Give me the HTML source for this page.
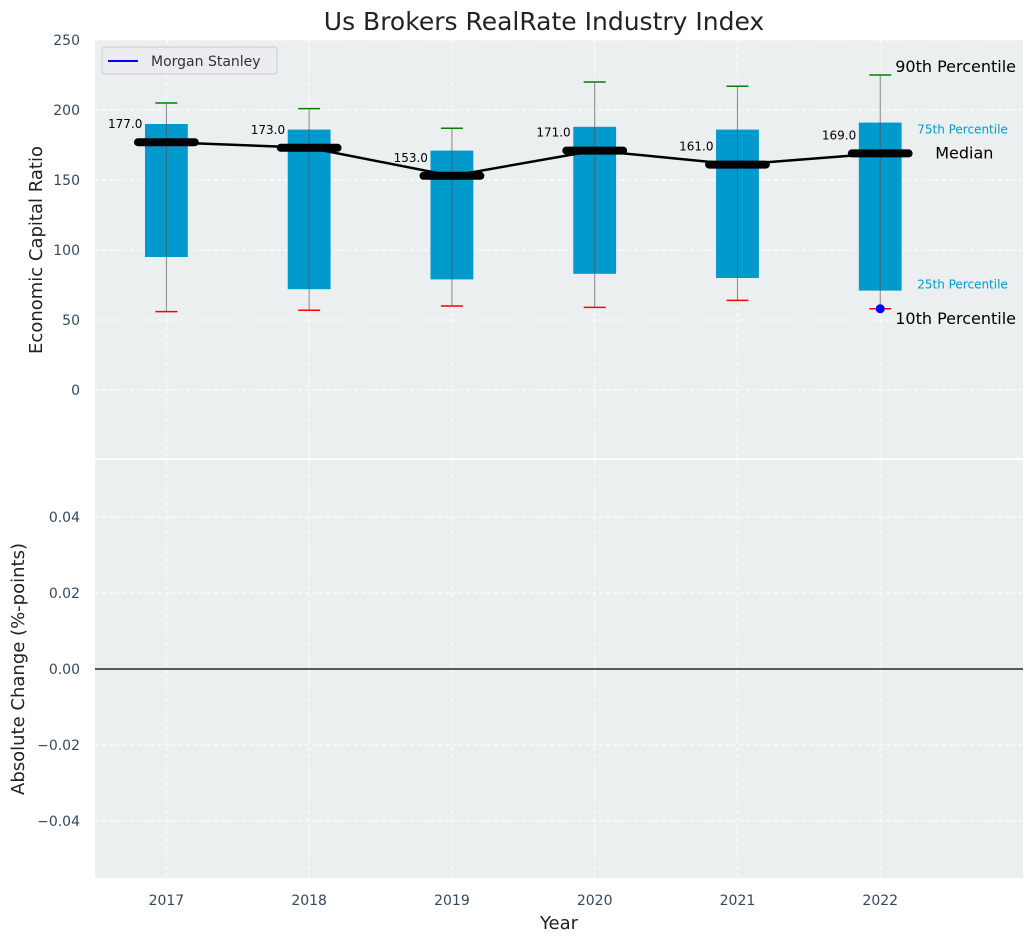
<!DOCTYPE html>
<html><head><meta charset="utf-8"><style>
body{margin:0;background:#fff;}
svg{display:block;font-family:"DejaVu Sans","Liberation Sans",sans-serif;}
</style></head><body>
<svg id="c" width="1034" height="942" viewBox="0 0 1034 942"></svg>
<script>
const years=[2017,2018,2019,2020,2021,2022];
const q1=[95,72,79,83,80,71];
const q3=[190,186,171,188,186,191];
const p10=[56,57,60,59,64,58];
const p90=[205,201,187,220,217,225];
const medians=[177,173,153,171,161,169];
const msYear=2022, msValue=58;
const topTicks=[0,50,100,150,200,250];
const botTicks=[-0.04,-0.02,0,0.02,0.04];
const botLabels=["\u22120.04","\u22120.02","0.00","0.02","0.04"];

const NS="http://www.w3.org/2000/svg";
const svg=document.getElementById('c');
function el(t,a,p){const e=document.createElementNS(NS,t);for(const k in a)e.setAttribute(k,a[k]);(p||svg).appendChild(e);return e;}
const L=95,R=1023;
const x=v=>L+(v-2016.5)/(6.5)*(R-L);
const yT=v=>40+(250-v)/300*420;
const yB=v=>460+(0.055-v)/0.11*418;

let e=el('rect',{x:L,y:40,width:R-L,height:420,fill:'#ebeff0'});

e=el('rect',{x:L,y:460,width:R-L,height:418,fill:'#ebeff0'});

el('line',{x1:L,x2:R,y1:459,y2:459,stroke:'#fff','stroke-width':2});

years.forEach(yr=>{
  el('line',{x1:x(yr),x2:x(yr),y1:40,y2:878,stroke:'#fff','stroke-dasharray':'4,3','stroke-width':1});
});
topTicks.forEach(t=>{
  el('line',{x1:L,x2:R,y1:yT(t),y2:yT(t),stroke:'#fff','stroke-dasharray':'4,3'});
  const tx=el('text',{x:80,y:yT(t)+5,'text-anchor':'end','font-size':14,fill:'#34495e'});tx.textContent=t;
  
});
botTicks.forEach((t,i)=>{
  el('line',{x1:L,x2:R,y1:yB(t),y2:yB(t),stroke:'#fff','stroke-dasharray':'4,3'});
  const tx=el('text',{x:80,y:yB(t)+5,'text-anchor':'end','font-size':14,fill:'#34495e'});tx.textContent=botLabels[i];
  
});
el('line',{x1:L,x2:R,y1:yB(0),y2:yB(0),stroke:'#000','stroke-width':1.2});

const bw=0.3*(R-L)/6.5, mw=0.44*(R-L)/6.5, cw=22;
years.forEach((yr,i)=>{
  const cx=x(yr);
  let b=el('rect',{x:cx-bw/2,y:yT(q3[i]),width:bw,height:yT(q1[i])-yT(q3[i]),fill:'#009acd'});
  
  el('line',{x1:cx,x2:cx,y1:yT(p90[i]),y2:yT(p10[i]),stroke:'#555','stroke-width':1,opacity:0.7});
  el('line',{x1:cx-cw/2,x2:cx+cw/2,y1:yT(p90[i]),y2:yT(p90[i]),stroke:'green','stroke-width':1.5});
  el('line',{x1:cx-cw/2,x2:cx+cw/2,y1:yT(p10[i]),y2:yT(p10[i]),stroke:'red','stroke-width':1.5});
});
let pts=years.map((yr,i)=>x(yr)+','+yT(medians[i])).join(' ');
e=el('polyline',{points:pts,fill:'none',stroke:'#000','stroke-width':2.5});

years.forEach((yr,i)=>{
  const cx=x(yr);
  let m=el('line',{x1:cx-mw/2+3,x2:cx+mw/2-3,y1:yT(medians[i]),y2:yT(medians[i]),stroke:'#000','stroke-width':8,'stroke-linecap':'round'});
  
  let t=el('text',{x:cx-24,y:yT(medians[i])-14,'text-anchor':'end','font-size':12,fill:'#000'});t.textContent=medians[i].toFixed(1);
  
});
e=el('circle',{cx:x(msYear),cy:yT(msValue),r:4.5,fill:'blue'});


const li=years.length-1, ax=x(years[li]);
function ann(txt,xx,yy,sz,col,nm){const t=el('text',{x:xx,y:yy,'font-size':sz,fill:col});t.textContent=txt;}
ann('90th Percentile',ax+15,yT(p90[li])-3,16,'#000','p90-annotation');
ann('75th Percentile',ax+37,yT(q3[li])+11,12,'#009acd','p75-annotation');
ann('Median',ax+55,yT(medians[li])+5,16,'#000','median-annotation');
ann('25th Percentile',ax+37,yT(q1[li])-2,12,'#009acd','p25-annotation');
ann('10th Percentile',ax+15,yT(p10[li])+15,16,'#000','p10-annotation');

years.forEach(yr=>{const t=el('text',{x:x(yr),y:905,'text-anchor':'middle','font-size':14,fill:'#34495e'});t.textContent=yr;});

const lg=el('g',{});
el('rect',{x:102,y:47,width:175,height:27,rx:3,fill:'#eaecf0',stroke:'#ccc'},lg);
el('line',{x1:108,x2:138,y1:61,y2:61,stroke:'blue','stroke-width':2},lg);
let lt=el('text',{x:151,y:66,'font-size':14,fill:'#333'},lg);lt.textContent='Morgan Stanley';

let t=el('text',{x:544,y:30,'text-anchor':'middle','font-size':25,fill:'#222'});t.textContent='Us Brokers RealRate Industry Index';

t=el('text',{x:559,y:929,'text-anchor':'middle','font-size':18,fill:'#222'});t.textContent='Year';

t=el('text',{x:0,y:0,'text-anchor':'middle','font-size':18,fill:'#222',transform:'translate(42,250) rotate(-90)'});t.textContent='Economic Capital Ratio';

t=el('text',{x:0,y:0,'text-anchor':'middle','font-size':18,fill:'#222',transform:'translate(24,669) rotate(-90)'});t.textContent='Absolute Change (%-points)';

</script>
</body></html>
